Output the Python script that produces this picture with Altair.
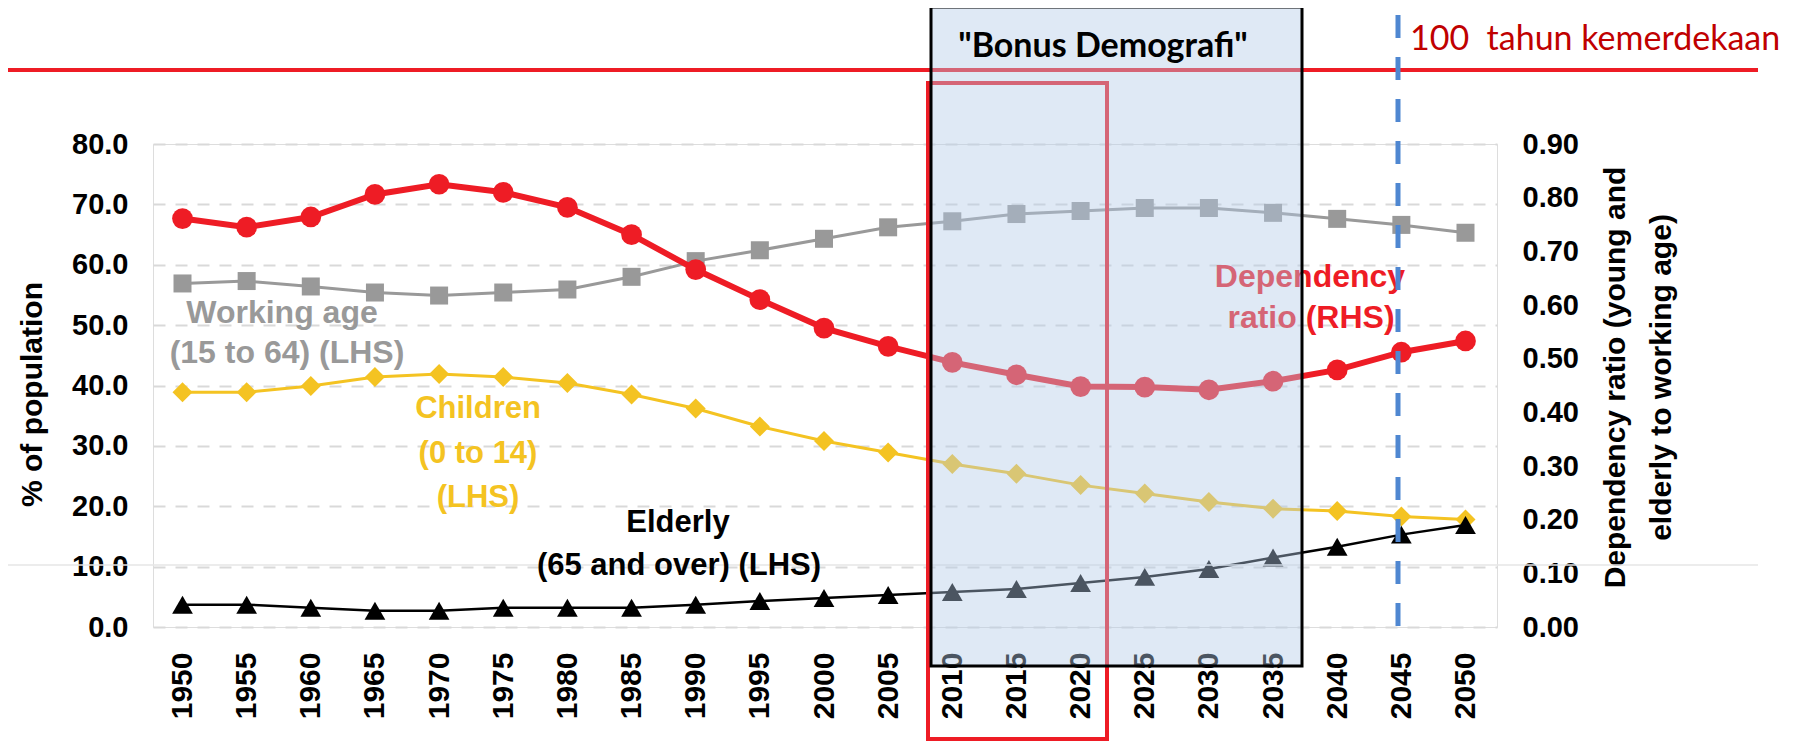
import altair as alt
import pandas as pd

# ---------------- data ----------------
years = [1950, 1955, 1960, 1965, 1970, 1975, 1980, 1985, 1990, 1995, 2000,
         2005, 2010, 2015, 2020, 2025, 2030, 2035, 2040, 2045, 2050]
working = [56.9, 57.3, 56.4, 55.4, 54.9, 55.4, 55.9, 58.0, 60.6, 62.4, 64.3,
           66.2, 67.2, 68.4, 68.9, 69.4, 69.4, 68.6, 67.6, 66.6, 65.3]
children = [38.9, 38.9, 39.9, 41.4, 41.9, 41.4, 40.4, 38.5, 36.2, 33.2, 30.8,
            28.9, 27.0, 25.4, 23.5, 22.1, 20.7, 19.6, 19.2, 18.3, 17.8]
elderly = [3.7, 3.7, 3.2, 2.7, 2.7, 3.2, 3.2, 3.2, 3.7, 4.3, 4.8,
           5.3, 5.8, 6.3, 7.3, 8.3, 9.6, 11.5, 13.3, 15.3, 16.9]
dependency = [0.761, 0.745, 0.764, 0.806, 0.825, 0.810, 0.782, 0.731, 0.666, 0.610, 0.557,
              0.523, 0.493, 0.470, 0.448, 0.447, 0.442, 0.458, 0.479, 0.512, 0.533]

left_ticks = [0, 10, 20, 30, 40, 50, 60, 70, 80]
right_ticks = [0.0, 0.1, 0.2, 0.3, 0.4, 0.5, 0.6, 0.7, 0.8, 0.9]

df = pd.DataFrame({"year": years, "working": working, "children": children,
                   "elderly": elderly, "dependency": dependency})
one = pd.DataFrame({"k": [0]})

FONT = "Liberation Sans"
RED = "#ee1c25"
GRAY = "#999999"
YELLOW = "#f4c322"
BLUE = "#4f87d1"

W, H = 1344, 483

x_axis = alt.Axis(values=years, format="d", labelAngle=270, labelFont=FONT,
                  labelFontSize=30, labelFontWeight="bold", labelColor="black",
                  labelPadding=25, ticks=False, domain=False, grid=False, title=None,
                  labelOverlap=False, labelFlush=False, labelBound=False)
x_enc = alt.X("year:Q", scale=alt.Scale(domain=[1947.7007, 2052.455], nice=False, zero=False),
              axis=x_axis)

left_axis = alt.Axis(values=left_ticks, format=".1f", labelFont=FONT, labelFontSize=29,
                     labelFontWeight="bold", labelColor="black", labelPadding=25,
                     ticks=False, domain=False, grid=True, gridColor="#d9d9d9",
                     gridDash=[12, 10], gridWidth=2,
                     title="% of population", titleFont=FONT, titleFontSize=30,
                     titleFontWeight="bold", titleColor="black", titleX=-121, titleY=250,
                     titleAngle=270, titleAlign="center", titleBaseline="middle")
left_scale = alt.Scale(domain=[0, 80], nice=False, zero=True)

right_axis = alt.Axis(orient="right", values=right_ticks, format=".2f", labelFont=FONT,
                      labelFontSize=29, labelFontWeight="bold", labelColor="black",
                      labelPadding=25, ticks=False, domain=False, grid=False,
                      title=["Dependency ratio (young and", "elderly to working age)"],
                      titleFont=FONT, titleFontSize=30, titleFontWeight="bold",
                      titleColor="black", titleX=118, titleY=233, titleAngle=270,
                      titleAlign="center", titleBaseline="middle", titleLineHeight=46)
right_scale = alt.Scale(domain=[0, 0.9], nice=False, zero=True)


def series(field, color, shape, size, lw):
    base = alt.Chart(df)
    y = alt.Y(f"{field}:Q", scale=left_scale, axis=left_axis)
    ln = base.mark_line(color=color, strokeWidth=lw, interpolate="linear").encode(x=x_enc, y=y)
    pt = base.mark_point(shape=shape, filled=True, color=color, size=size, opacity=1).encode(x=x_enc, y=y)
    return [ln, pt]


left_group = alt.layer(
    *series("working", GRAY, "square", 324, 3),
    *series("children", YELLOW, "diamond", 400, 3),
    *series("elderly", "black", "triangle-up", 430, 2.5),
)

ry = alt.Y("dependency:Q", scale=right_scale, axis=right_axis)
right_group = alt.layer(
    alt.Chart(df).mark_line(color=RED, strokeWidth=6, interpolate="linear").encode(x=x_enc, y=ry),
    alt.Chart(df).mark_point(shape="circle", filled=True, color=RED, size=430, opacity=1).encode(x=x_enc, y=ry),
)


def text(s, x, y, color, size=31, weight="bold", font=FONT, align="center"):
    return alt.Chart(one).mark_text(text=s, font=font, fontSize=size, fontWeight=weight,
                                    color=color, align=align, baseline="alphabetic").encode(
        x=alt.value(x), y=alt.value(y))


overlays = [
    # faint full-width line
    alt.Chart(one).mark_rule(color="#e6e6e6", strokeWidth=1.5).encode(
        x=alt.value(-153), x2=alt.value(1605), y=alt.value(421)),
    # top red line
    alt.Chart(one).mark_rule(color=RED, strokeWidth=4).encode(
        x=alt.value(-153), x2=alt.value(1605), y=alt.value(-74)),
    # red rectangle
    alt.Chart(one).mark_rect(filled=False, stroke=RED, strokeWidth=4).encode(
        x=alt.value(775), x2=alt.value(954), y=alt.value(-61), y2=alt.value(595)),
    # series labels
    text("Working age", 129, 179, GRAY, size=32),
    text("(15 to 64) (LHS)", 134, 219, GRAY, size=32),
    text("Children", 325, 274, YELLOW),
    text("(0 to 14)", 325, 319, YELLOW),
    text("(LHS)", 325, 363, YELLOW),
    text("Elderly", 525, 388, "black"),
    text("(65 and over) (LHS)", 526, 431, "black"),
    text("Dependency", 1157, 143, RED, size=32),
    text("ratio (RHS)", 1158, 184, RED, size=32),
    # Bonus Demografi box
    alt.Chart(one).mark_rect(fill="#b3cbe7", fillOpacity=0.42, stroke="black", strokeWidth=3).encode(
        x=alt.value(778), x2=alt.value(1149), y=alt.value(-137), y2=alt.value(522)),
    text('"Bonus Demografi"', 950, -87, "black", size=34, font="Lato"),
    # blue dashed line at 2045
    alt.Chart(one).mark_rule(color=BLUE, strokeWidth=5, strokeDash=[23, 19], strokeCap="butt").encode(
        x=alt.value(1245), y=alt.value(-129), y2=alt.value(483)),
    text("100\u00a0 tahun kemerdekaan", 1257, -94, "#c00000", size=34, weight="normal",
         font="Lato", align="left"),
]

chart = alt.layer(left_group, right_group, *overlays).resolve_scale(y="independent").properties(
    width=W, height=H,
    padding={"left": 145, "top": 136, "right": 290, "bottom": 116},
    autosize=alt.AutoSizeParams(type="none"),
).configure_view(stroke=None).configure(background="white")

chart.save("out.html", embed_options={"renderer": "svg", "actions": False})
